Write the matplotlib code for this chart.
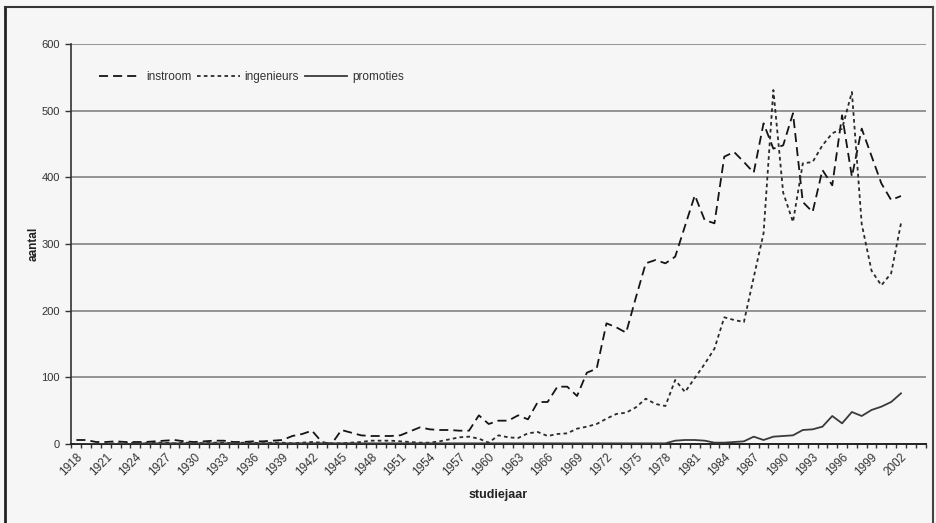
import matplotlib
matplotlib.use("Agg")
import matplotlib.pyplot as plt
from matplotlib.lines import Line2D

plt.rcParams['font.family'] = ['Liberation Sans', 'DejaVu Sans']

years = list(range(1918, 2003))

instroom = [6, 6, 3, 3, 4, 3, 3, 3, 4, 5,
            6, 4, 3, 4, 5, 5, 3, 3, 4, 4,
            5, 6, 12, 15, 20, 3, 0, 21, 17, 13,
            12, 12, 12, 13, 19, 25, 22, 21, 21, 20,
            20, 43, 30, 35, 35, 43, 37, 63, 63, 86,
            86, 72, 107, 113, 181, 175, 167, 220, 271, 276,
            271, 281, 327, 373, 336, 331, 431, 438, 423, 407,
            481, 443, 448, 496, 363, 348, 411, 388, 493, 401,
            473, 432, 391, 366, 372]

ingenieurs = [0, 0, 0, 0, 1, 1, 2, 1, 2, 2,
              1, 2, 2, 1, 2, 2, 1, 2, 2, 1,
              2, 2, 1, 2, 3, 2, 1, 1, 2, 3,
              5, 5, 5, 4, 3, 2, 2, 4, 7, 10,
              11, 8, 2, 13, 10, 9, 16, 18, 12, 15,
              16, 23, 26, 30, 38, 45, 47, 55, 68, 60,
              57, 96, 78, 99, 120, 143, 190, 186, 183, 250,
              316, 531, 377, 333, 421, 423, 448, 466, 473, 528,
              330, 260, 238, 256, 331]

promoties = [0, 0, 0, 0, 0, 0, 0, 1, 1, 1,
             1, 1, 1, 1, 1, 1, 1, 1, 1, 1,
             1, 1, 1, 1, 1, 1, 1, 1, 1, 1,
             1, 1, 1, 1, 1, 1, 1, 1, 1, 1,
             1, 1, 1, 1, 1, 1, 1, 1, 1, 1,
             1, 1, 1, 1, 1, 1, 1, 1, 1, 1,
             1, 5, 6, 6, 5, 2, 2, 3, 4, 11,
             6, 11, 12, 13, 21, 22, 26, 42, 31, 48,
             42, 51, 56, 63, 76]

year_labels = [str(y) for y in range(1918, 2003, 3)]
y_ticks = [0, 100, 200, 300, 400, 500, 600]

bg = '#f6f6f6'
fig = plt.figure(figsize=(9.36, 5.23), dpi=100, facecolor=bg)
ax = fig.add_axes([71/936, 1-444/523, (926-71)/936, (444-44)/523])
ax.set_facecolor(bg)

# frame around the chart area (scanned page border)
fig.add_artist(Line2D([5/936, 5/936], [0, 1-7/523], transform=fig.transFigure, color='#222222', lw=2))
fig.add_artist(Line2D([5/936, 933/936], [1-7/523, 1-7/523], transform=fig.transFigure, color='#333333', lw=1.5))
fig.add_artist(Line2D([933/936, 933/936], [0, 1-7/523], transform=fig.transFigure, color='#444444', lw=1.5))

ax.set_xlim(1917.45, 2004.55)
ax.set_ylim(0, 600)

for yv in y_ticks[1:]:
    ax.axhline(yv, color='#7a7a7a', lw=1.1, zorder=1)

ax.plot(years, instroom, color='#151515', lw=1.3, dashes=[5, 2.8], label='instroom', zorder=3)
ax.plot(years, ingenieurs, color='#2a2a2a', lw=1.3, dashes=[2.0, 1.8], label='ingenieurs', zorder=3)
ax.plot(years, promoties, color='#3a3a3a', lw=1.3, label='promoties', zorder=3)

for s in ['top', 'right']:
    ax.spines[s].set_visible(False)
ax.spines['left'].set_color('#333333')
ax.spines['left'].set_linewidth(1.2)
ax.spines['bottom'].set_color('#222222')
ax.spines['bottom'].set_linewidth(1.4)

ax.set_yticks(y_ticks)
ax.set_yticklabels([str(v) for v in y_ticks])
ax.tick_params(axis='y', direction='out', length=4, width=1, color='#333333',
               labelsize=8, labelcolor='#333333', pad=4)

ax.set_xticks(list(range(1918, 2003, 3)))
ax.set_xticklabels(year_labels, rotation=45, ha='right', rotation_mode='anchor')
ax.set_xticks([y + 0.5 for y in range(1917, 2005)], minor=True)
ax.tick_params(axis='x', which='major', direction='out', length=0, labelsize=8.5,
               labelcolor='#333333', pad=5)
ax.tick_params(axis='x', which='minor', direction='out', length=3, width=1, color='#333333')

ax.set_ylabel('aantal', fontsize=8.5, fontweight='bold', color='#222222', labelpad=1)
ax.set_xlabel('studiejaar', fontsize=9, fontweight='bold', color='#222222', labelpad=8)

leg = ax.legend(loc='upper left', bbox_to_anchor=(0.02, 0.958), ncol=3, frameon=False,
                fontsize=8.5, handlelength=3.6, handletextpad=0.4, columnspacing=0.5)
for t in leg.get_texts():
    t.set_color('#333333')

fig.savefig('out.png', dpi=100, facecolor=bg)
